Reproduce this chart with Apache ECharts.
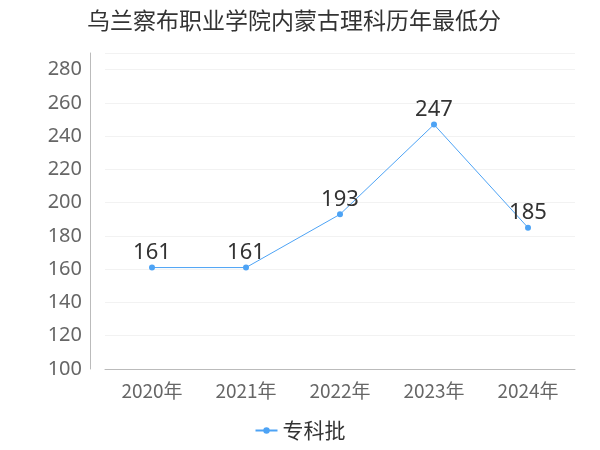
<!DOCTYPE html>
<html><head><meta charset="utf-8">
<script src="https://cdn.jsdelivr.net/npm/echarts@6/dist/echarts.min.js"></script>
<style>html,body{margin:0;padding:0}#c{width:600px;height:450px}</style>
</head><body><div id="c"></div>
<script>
const categories = ['2020年','2021年','2022年','2023年','2024年'];
const values = [161,161,193,247,185];
const seriesName = '专科批';
const chart = echarts.init(document.getElementById('c'));
chart.setOption({
  title:{text:'乌兰察布职业学院内蒙古理科历年最低分',left:82,top:4,textStyle:{fontSize:23,fontWeight:'normal',color:'#333',fontFamily:'Noto Sans CJK SC'}},
  legend:{bottom:4,left:'center',itemWidth:22,itemHeight:8,textStyle:{fontSize:21,color:'#333',fontFamily:'Noto Sans CJK SC'}},
  grid:{left:105,right:25,top:53,bottom:81},
  xAxis:{type:'category',data:categories,axisTick:{show:false},
    axisLine:{lineStyle:{color:'#bbb'}},
    axisLabel:{fontSize:19,color:'#666',margin:12,fontFamily:'Noto Sans CJK SC'}},
  yAxis:{type:'value',min:100,max:290,interval:20,offset:15,
    axisLine:{show:true,lineStyle:{color:'#bbb'}},
    splitLine:{lineStyle:{color:'#f2f2f2'}},
    axisLabel:{fontSize:20,color:'#666',fontFamily:'Noto Sans'}},
  series:[{name:seriesName,type:'line',data:values,symbol:'circle',symbolSize:6,
    itemStyle:{color:'#4da3f5'},lineStyle:{color:'#4da3f5',width:1},
    label:{show:true,position:'top',fontSize:22,color:'#333',distance:1,fontFamily:'Noto Sans'}}]
});
</script></body></html>
